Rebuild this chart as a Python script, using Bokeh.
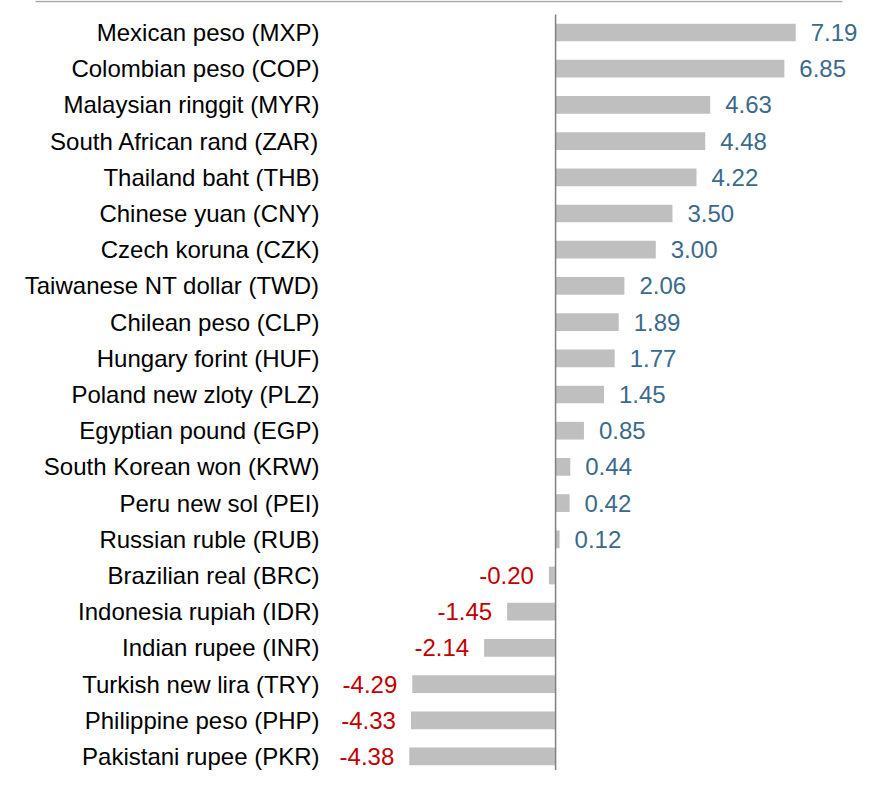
from bokeh.plotting import figure
from bokeh.models import ColumnDataSource, Range1d
from bokeh.core.properties import value
from bokeh.embed import file_html
from bokeh.resources import INLINE

currencies = [
    "Mexican peso (MXP)", "Colombian peso (COP)", "Malaysian ringgit (MYR)",
    "South African rand (ZAR)", "Thailand baht (THB)", "Chinese yuan (CNY)",
    "Czech koruna (CZK)", "Taiwanese NT dollar (TWD)", "Chilean peso (CLP)",
    "Hungary forint (HUF)", "Poland new zloty (PLZ)", "Egyptian pound (EGP)",
    "South Korean won (KRW)", "Peru new sol (PEI)", "Russian ruble (RUB)",
    "Brazilian real (BRC)", "Indonesia rupiah (IDR)", "Indian rupee (INR)",
    "Turkish new lira (TRY)", "Philippine peso (PHP)", "Pakistani rupee (PKR)",
]
values = [7.19, 6.85, 4.63, 4.48, 4.22, 3.50, 3.00, 2.06, 1.89, 1.77, 1.45,
          0.85, 0.44, 0.42, 0.12, -0.20, -1.45, -2.14, -4.29, -4.33, -4.38]

n = len(currencies)
ypos = list(range(n))
labels = ["%.2f" % v for v in values]

FONT = "Liberation Sans"
FS = "24px"

x_start, x_end = -16.62, 9.10
rule_start, rule_end = -15.57, 8.59
top_pad, bottom_pad = 0.884, 0.387

p = figure(width=859, height=770, output_backend="svg", toolbar_location=None,
           x_range=Range1d(x_start, x_end),
           y_range=Range1d(n - 1 + bottom_pad, -top_pad),
           min_border_left=0, min_border_right=0,
           min_border_top=0, min_border_bottom=0)
p.xaxis.visible = False
p.yaxis.visible = False
p.grid.visible = False
p.outline_line_color = None
p.background_fill_color = "white"

src = ColumnDataSource(dict(y=ypos, v=values, cat=currencies, lab=labels,
                            xs=[x_start] * n))
pos_idx = [i for i, v in enumerate(values) if v >= 0]
neg_idx = [i for i, v in enumerate(values) if v < 0]
pos = ColumnDataSource(dict(y=[ypos[i] for i in pos_idx], v=[values[i] for i in pos_idx],
                            lab=[labels[i] for i in pos_idx]))
neg = ColumnDataSource(dict(y=[ypos[i] for i in neg_idx], v=[values[i] for i in neg_idx],
                            lab=[labels[i] for i in neg_idx]))

# top rule
p.segment(x0=[rule_start], x1=[rule_end], y0=[-top_pad + 0.03], y1=[-top_pad + 0.03],
          line_color="#a6a6a6", line_width=1.5)

p.hbar(y="y", left=0, right="v", height=0.49, source=src,
       fill_color="#bfbfbf", line_color=None)

# zero axis
p.segment(x0=[0], x1=[0], y0=[-0.5], y1=[n + 1], line_color="#808080", line_width=1.5)

p.text(x="xs", y="y", text="cat", source=src, x_offset=319,
       text_align="right", text_baseline="middle",
       text_font=value(FONT), text_font_size=FS, text_color="#000000")

p.text(x="v", y="y", text="lab", source=pos, x_offset=15,
       text_align="left", text_baseline="middle",
       text_font=value(FONT), text_font_size=FS, text_color="#3b6a8c")
p.text(x="v", y="y", text="lab", source=neg, x_offset=-15,
       text_align="right", text_baseline="middle",
       text_font=value(FONT), text_font_size=FS, text_color="#c00000")

open("out.html", "w").write(file_html(p, INLINE))
